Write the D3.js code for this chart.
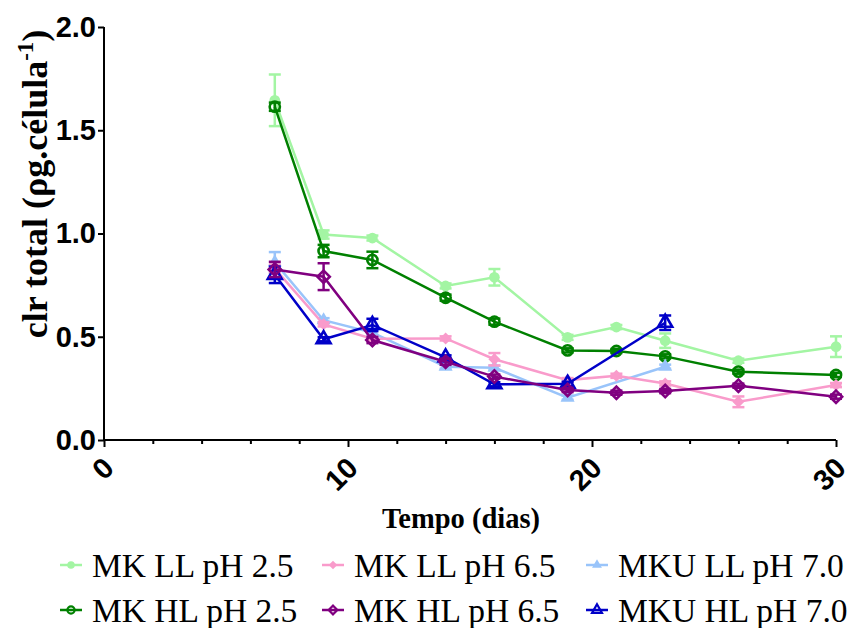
<!DOCTYPE html>
<html>
<head>
<meta charset="utf-8">
<script src="https://cdn.jsdelivr.net/npm/d3@7"></script>
<style>
  html, body { margin: 0; padding: 0; background: #fff; }
  svg { display: block; }
</style>
</head>
<body>
<svg id="chart" width="853" height="628"></svg>
<script>
// Sampling days
const daysAll = [7, 9, 11, 14, 16, 19, 21, 23, 26, 30];
const daysU = [7, 9, 11, 14, 16, 19, 23];

// Total chlorophyll per cell (mean and SD) for each culture
const mkLL25 = [1.645, 0.995, 0.978, 0.746, 0.788, 0.497, 0.547, 0.481, 0.384, 0.452];
const mkLL25Sd = [0.125, 0.02, 0.012, 0.012, 0.04, 0.012, 0.01, 0.035, 0.01, 0.05];
const mkHL25 = [1.614, 0.915, 0.872, 0.689, 0.573, 0.434, 0.431, 0.405, 0.331, 0.315];
const mkHL25Sd = [0.02, 0.03, 0.04, 0.015, 0.015, 0.01, 0.01, 0.01, 0.01, 0.01];
const mkLL65 = [0.83, 0.56, 0.49, 0.492, 0.391, 0.29, 0.311, 0.274, 0.185, 0.266];
const mkLL65Sd = [0.02, 0.01, 0.01, 0.01, 0.03, 0.01, 0.01, 0.01, 0.026, 0.01];
const mkHL65 = [0.826, 0.791, 0.484, 0.379, 0.307, 0.242, 0.229, 0.237, 0.263, 0.21];
const mkHL65Sd = [0.037, 0.065, 0.015, 0.015, 0.01, 0.01, 0.01, 0.01, 0.01, 0.01];
const mkuLL70 = [0.86, 0.58, 0.52, 0.355, 0.35, 0.205, 0.355];
const mkuLL70Sd = [0.05, 0.01, 0.01, 0.01, 0.01, 0.01, 0.01];
const mkuHL70 = [0.80, 0.488, 0.557, 0.40, 0.27, 0.272, 0.568];
const mkuHL70Sd = [0.04, 0.01, 0.03, 0.01, 0.01, 0.01, 0.035];

const seriesNames = ["MK LL pH 2.5", "MK HL pH 2.5", "MK LL pH 6.5", "MK HL pH 6.5", "MKU LL pH 7.0", "MKU HL pH 7.0"];

const xTicks = [0, 10, 20, 30];
const yTicks = [0, 0.5, 1.0, 1.5, 2.0];

const series = [
  { name: seriesNames[0], days: daysAll, v: mkLL25, sd: mkLL25Sd, color: "#a3f5a3", sym: "circle", open: false },
  { name: seriesNames[1], days: daysAll, v: mkHL25, sd: mkHL25Sd, color: "#008000", sym: "circle", open: true },
  { name: seriesNames[4], days: daysU, v: mkuLL70, sd: mkuLL70Sd, color: "#99c4fa", sym: "triangle", open: false },
  { name: seriesNames[2], days: daysAll, v: mkLL65, sd: mkLL65Sd, color: "#f99bcb", sym: "diamond", open: false },
  { name: seriesNames[5], days: daysU, v: mkuHL70, sd: mkuHL70Sd, color: "#0000c8", sym: "triangle", open: true },
  { name: seriesNames[3], days: daysAll, v: mkHL65, sd: mkHL65Sd, color: "#800080", sym: "diamond", open: true }
];

const svg = d3.select("#chart");
const x = d3.scaleLinear().domain([0, 30]).range([104, 836]);
const y = d3.scaleLinear().domain([0, 2]).range([440, 27]);

// Marker shapes; the diamond is a square turned by 45 degrees
const symArea = {
  circle: { filled: 90, open: 82 },
  triangle: { filled: 85, open: 85 },
  diamond: { filled: 72, open: 76 }
};
function symbolPath(sym, open, scale) {
  const k = scale || 1;
  const a = symArea[sym][open ? "open" : "filled"] * k;
  const type = sym === "circle" ? d3.symbolCircle : sym === "triangle" ? d3.symbolTriangle : d3.symbolSquare;
  return d3.symbol().type(type).size(a)();
}
function symbolRot(sym) { return sym === "diamond" ? " rotate(45)" : ""; }

// Axes
const yAxis = d3.axisLeft(y).tickValues(yTicks).tickFormat(d3.format(".1f")).tickSize(6).tickPadding(2);
const gy = svg.append("g").attr("transform", `translate(${x(0)},0)`).call(yAxis);
gy.select(".domain").attr("d", `M0,${y(2)}V${y(0)}`);
gy.selectAll("line, path").attr("stroke", "#000").attr("stroke-width", 2);
gy.selectAll("text").attr("font-family", "'Liberation Sans', Arial, sans-serif")
  .attr("font-weight", "bold").attr("font-size", 29).attr("fill", "#000");

const gx = svg.append("g").attr("transform", `translate(0,${y(0)})`);
gx.call(d3.axisBottom(x).tickValues(d3.range(0, 31, 2)).tickSize(4).tickFormat(""));
gx.call(g => g.selectAll(".tick line").filter(d => d % 10 === 0).attr("y2", 7));
gx.select(".domain").attr("d", `M${x(0)},0H${x(30)}`);
gx.selectAll("line, path").attr("stroke", "#000").attr("stroke-width", 2);

gx.selectAll(".xlab").data(xTicks).enter().append("text")
  .attr("class", "xlab")
  .attr("transform", d => `translate(${x(d) - 3},${15}) rotate(-45)`)
  .attr("text-anchor", "end")
  .attr("dy", "0.72em")
  .attr("fill", "#000")
  .attr("font-family", "'Liberation Sans', Arial, sans-serif")
  .attr("font-weight", "bold").attr("font-size", 29)
  .text(d => d);

// Axis titles
svg.append("text")
  .attr("transform", `translate(47,184) rotate(-90)`)
  .attr("text-anchor", "middle")
  .attr("fill", "#000")
  .attr("font-family", "'Liberation Serif', 'Times New Roman', serif")
  .attr("font-weight", "bold").attr("font-size", 36)
  .call(t => {
    t.append("tspan").text("clr total (ρg.célula");
    t.append("tspan").attr("dy", -14).attr("font-size", 23).text("-1");
    t.append("tspan").attr("dy", 14).text(")");
  });

svg.append("text")
  .attr("x", 461).attr("y", 528)
  .attr("text-anchor", "middle")
  .attr("fill", "#000")
  .attr("font-family", "'Liberation Serif', 'Times New Roman', serif")
  .attr("font-weight", "bold").attr("font-size", 28.5)
  .text("Tempo (dias)");

// Series: error bars, lines, symbols
const plot = svg.append("g");
const line = d3.line().x(d => x(d.day)).y(d => y(d.val));
series.forEach(s => {
  const pts = s.days.map((d, i) => ({ day: d, val: s.v[i], sd: s.sd[i] }));
  const g = plot.append("g");
  const eb = g.selectAll(".eb").data(pts).enter().append("g");
  eb.append("line")
    .attr("x1", d => x(d.day)).attr("x2", d => x(d.day))
    .attr("y1", d => y(d.val - d.sd)).attr("y2", d => y(d.val + d.sd));
  eb.append("line")
    .attr("x1", d => x(d.day) - 6).attr("x2", d => x(d.day) + 6)
    .attr("y1", d => y(d.val + d.sd)).attr("y2", d => y(d.val + d.sd));
  eb.append("line")
    .attr("x1", d => x(d.day) - 6).attr("x2", d => x(d.day) + 6)
    .attr("y1", d => y(d.val - d.sd)).attr("y2", d => y(d.val - d.sd));
  eb.selectAll("line").attr("stroke", s.color).attr("stroke-width", 2.5);

  g.append("path").datum(pts).attr("d", line)
    .attr("fill", "none").attr("stroke", s.color).attr("stroke-width", 2.5);

  g.selectAll(".pt").data(pts).enter().append("path")
    .attr("transform", d => `translate(${x(d.day)},${y(d.val)})` + symbolRot(s.sym))
    .attr("d", symbolPath(s.sym, s.open))
    .attr("fill", s.open ? "none" : s.color)
    .attr("stroke", s.color)
    .attr("stroke-width", s.open ? 2.6 : 0);
});

// Legend
const legendOrder = [
  [series[0], 71, 565], [series[3], 333, 565], [series[2], 597, 565],
  [series[1], 71, 610], [series[5], 333, 610], [series[4], 597, 610]
];
const lg = svg.append("g");
legendOrder.forEach(([s, lx, ly]) => {
  const item = lg.append("g").attr("transform", `translate(${lx},${ly})`);
  item.append("line").attr("x1", -11).attr("x2", 11).attr("y1", 0).attr("y2", 0)
    .attr("stroke", s.color).attr("stroke-width", 2.5);
  item.append("path").attr("d", symbolPath(s.sym, s.open, 0.5))
    .attr("transform", symbolRot(s.sym).trim() || null)
    .attr("fill", s.open ? "none" : s.color)
    .attr("stroke", s.color).attr("stroke-width", s.open ? 2.2 : 0);
  item.append("text").attr("x", 21).attr("y", 0).attr("dy", "0.35em")
    .attr("fill", "#000")
    .attr("font-family", "'Liberation Serif', 'Times New Roman', serif")
    .attr("font-size", 33.5)
    .text(s.name);
});
</script>
</body>
</html>
